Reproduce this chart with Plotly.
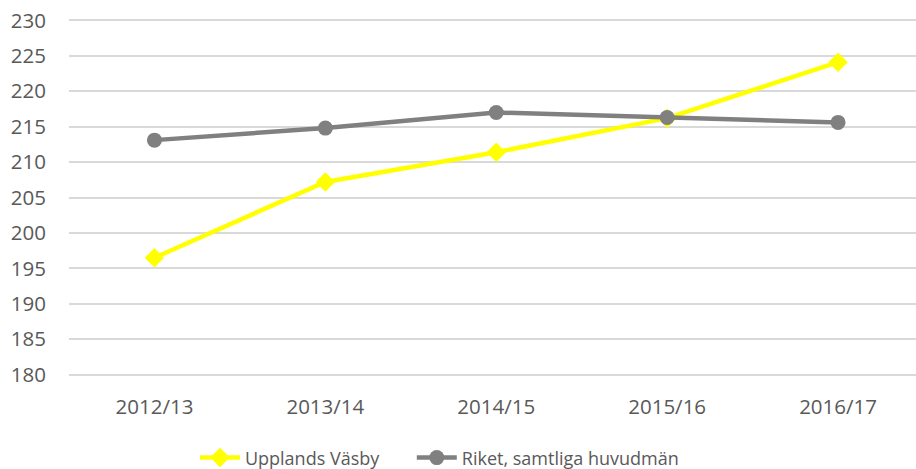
import plotly.graph_objects as go

categories = ["2012/13", "2013/14", "2014/15", "2015/16", "2016/17"]
upplands = [196.5, 207.2, 211.4, 216.2, 224.1]
riket = [213.1, 214.8, 217.0, 216.3, 215.6]
y_ticks = [180, 185, 190, 195, 200, 205, 210, 215, 220, 225, 230]

fig = go.Figure()
fig.add_trace(go.Scatter(
    x=categories, y=upplands, name="Upplands Väsby", mode="lines+markers",
    line=dict(color="#FFFF00", width=4.5),
    marker=dict(symbol="diamond", size=15, color="#FFFF00"),
    legend="legend",
))
fig.add_trace(go.Scatter(
    x=categories, y=riket, name="Riket, samtliga huvudmän", mode="lines+markers",
    line=dict(color="#808080", width=4.5),
    marker=dict(symbol="circle", size=15, color="#808080"),
    legend="legend2",
))

PXU = 354 / 50.0          # pixels per unit
Y0, Y1 = 179.8, 230.2     # slightly padded so edge gridlines are drawn
L = 68.5
T = 20.7 - (Y1 - 230) * PXU
PH = (Y1 - Y0) * PXU
PW = 916 - L
leg_y = -(458 - (T + PH)) / PH

font = dict(family="Open Sans", size=20.5, color="#595959")
legfont = dict(family="Open Sans", size=18, color="#595959")
leg_common = dict(orientation="h", xanchor="left", y=leg_y, yanchor="middle",
                  font=legfont, itemwidth=40, bgcolor="rgba(0,0,0,0)")
fig.update_layout(
    width=916, height=469,
    margin=dict(l=L, r=0, t=T, b=469 - T - PH, autoexpand=False),
    paper_bgcolor="white", plot_bgcolor="white",
    font=font,
    showlegend=True,
    legend=dict(x=(194.5 - L) / PW, **leg_common),
    legend2=dict(x=(411.5 - L) / PW, **leg_common),
    xaxis=dict(range=[-0.5, -0.5 + PW / 171.0], showgrid=False,
               showline=False, zeroline=False, ticks="", tickfont=font,
               ticklabelstandoff=16, automargin=False),
    yaxis=dict(range=[Y0, Y1], tickvals=y_ticks,
               showgrid=True, gridcolor="#d9d9d9",
               gridwidth=1.5, zeroline=False, showline=False, ticks="",
               tickfont=font, ticklabelstandoff=22, automargin=False,
               ticklabeloverflow="allow"),
)
fig.write_html("out.html", config={"displayModeBar": False},
               post_script="document.body.style.margin='0px';")
